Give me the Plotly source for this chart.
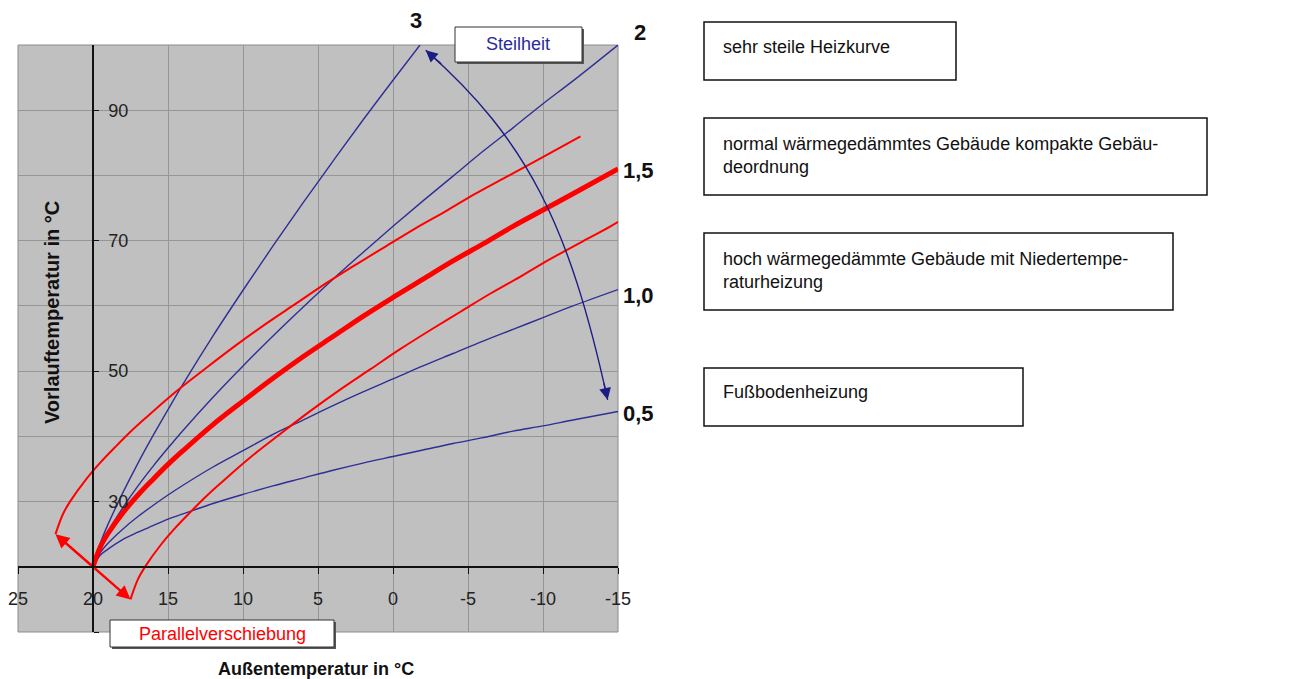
import plotly.graph_objects as go

# ---------------- data ----------------
x_common = [20, 19.5, 19, 18, 17, 16, 15, 14, 12, 10, 8, 6, 4, 2, 0, -2, -4, -6, -8, -10, -12, -15]

x_s3 = [20, 19.5, 19, 18, 17, 16, 15, 14, 12, 10, 8, 6, 4, 2, 0, -1.8]
y_s3 = [20, 23.7, 26.5, 31.4, 35.9, 40.1, 44.1, 48.0, 55.4, 62.4, 69.2, 75.8, 82.2, 88.5, 94.6, 100]

y_s2 = [20, 23.2, 25.4, 29.1, 32.4, 35.4, 38.2, 40.9, 46.0, 50.8, 55.4, 59.8, 64.1, 68.2,
        72.2, 76.1, 79.9, 83.7, 87.3, 91.0, 94.5, 100]
y_s15 = [20, 23.1, 25.1, 28.3, 31.0, 33.4, 35.7, 37.8, 41.8, 45.4, 48.9, 52.2, 55.3, 58.4,
         61.3, 64.1, 66.9, 69.5, 72.2, 74.7, 77.2, 81.0]
y_s10 = [20, 22.2, 23.6, 25.8, 27.7, 29.4, 31.0, 32.5, 35.3, 37.8, 40.3, 42.5, 44.7, 46.8,
         48.8, 50.8, 52.7, 54.6, 56.4, 58.2, 60.0, 62.5]
y_s05 = [20, 21.8, 22.7, 24.2, 25.3, 26.3, 27.3, 28.1, 29.7, 31.1, 32.4, 33.6, 34.8, 35.9,
         36.9, 37.9, 38.9, 39.8, 40.8, 41.6, 42.5, 43.8]

# parallel-shifted curves (Parallelverschiebung)
x_up = [22.5, 22, 21.5, 20.5, 19.5, 18.5, 17.5, 16.5, 14.5, 12.5, 10.5, 8.5, 6.5, 4.5, 2.5,
        0.5, -1.5, -3.5, -5.5, -7.5, -9.5, -12.5]
y_up = [25, 28.1, 30.1, 33.3, 36.0, 38.4, 40.7, 42.8, 46.8, 50.4, 53.9, 57.2, 60.3, 63.4,
        66.3, 69.1, 71.9, 74.5, 77.2, 79.7, 82.2, 86.0]
x_lo = [17.5, 17, 16.5, 15.5, 14.5, 13.5, 12.5, 11.5, 9.5, 7.5, 5.5, 3.5, 1.5, -0.5, -2.5,
        -4.5, -6.5, -8.5, -10.5, -12.5, -14.5, -15]
y_lo = [15, 18.1, 20.1, 23.3, 26.0, 28.4, 30.7, 32.8, 36.8, 40.4, 43.9, 47.2, 50.3, 53.4,
        56.3, 59.1, 61.9, 64.5, 67.2, 69.7, 72.2, 72.9]

x_ticks = [25, 20, 15, 10, 5, 0, -5, -10, -15]
y_ticks = [10, 30, 50, 70, 90]
y_ticktext = ["", "30", "50", "70", "90"]

curve_labels = ["3", "2", "1,5", "1,0", "0,5"]
box_texts = [
    "sehr steile Heizkurve",
    "normal wärmegedämmtes Gebäude kompakte Gebäu-<br>deordnung",
    "hoch wärmegedämmte Gebäude mit Niedertempe-<br>raturheizung",
    "Fußbodenheizung",
]
x_title = "Außentemperatur in °C"
y_title = "Vorlauftemperatur in °C"

# ---------------- style ----------------
OFF = 8                      # page body margin of the html page
W, H = 1290 - OFF, 679 - OFF
PL, PR, PT, PB = 18, 618, 45, 632  # plot area in reference pixels
FONT = "Liberation Sans, Arial, sans-serif"
BLUE = "#2E2E96"
NAVY = "#1C1C86"
RED = "#FF0000"


def px(xp):
    return (xp - PL) / (PR - PL)


def py(yp):
    return (PB - yp) / (PB - PT)


fig = go.Figure()

for xs, ys in [(x_s3, y_s3), (x_common, y_s2), (x_common, y_s10), (x_common, y_s05)]:
    fig.add_trace(go.Scatter(x=xs, y=ys, mode="lines", line=dict(color=BLUE, width=1.4, shape="spline"),
                             hoverinfo="skip", showlegend=False))

for xs, ys in [(x_up, y_up), (x_lo, y_lo)]:
    fig.add_trace(go.Scatter(x=xs, y=ys, mode="lines", line=dict(color=RED, width=2, shape="spline"),
                             hoverinfo="skip", showlegend=False))

fig.add_trace(go.Scatter(x=x_common, y=y_s15, mode="lines", line=dict(color=RED, width=5, shape="spline"),
                         hoverinfo="skip", showlegend=False))

shapes = []
annotations = []

# plot border
shapes.append(dict(type="rect", xref="paper", yref="paper", x0=0, x1=1, y0=0, y1=1,
                   line=dict(color="#8C8C8C", width=1), layer="below"))

# curved "Steilheit" arrow (decoration), as a cubic path in data coordinates
shapes.append(dict(type="path", xref="x", yref="y",
                   path="M -2.18,99.2 C -8.98,85.4 -11.75,72.4 -14.31,45.6",
                   line=dict(color=NAVY, width=1.4), layer="above"))

# arrowheads of the Steilheit arrow
annotations.append(dict(x=-2.18, y=99.2, xref="x", yref="y", ax=17, ay=15, axref="pixel", ayref="pixel",
                        showarrow=True, arrowhead=2, arrowsize=1.7, arrowwidth=1.4, arrowcolor=NAVY, text=""))
annotations.append(dict(x=-14.31, y=45.6, xref="x", yref="y", ax=-4, ay=-18, axref="pixel", ayref="pixel",
                        showarrow=True, arrowhead=2, arrowsize=1.7, arrowwidth=1.4, arrowcolor=NAVY, text=""))

# red parallel-shift arrows
annotations.append(dict(x=22.5, y=25, xref="x", yref="y", ax=20, ay=20, axref="x", ayref="y",
                        showarrow=True, arrowhead=2, arrowsize=1.15, arrowwidth=2.4, arrowcolor=RED, text=""))
annotations.append(dict(x=17.5, y=15, xref="x", yref="y", ax=20, ay=20, axref="x", ayref="y",
                        showarrow=True, arrowhead=2, arrowsize=1.15, arrowwidth=2.4, arrowcolor=RED, text=""))


def label_box(x0, y0, x1, y1, shadow=True):
    if shadow:
        shapes.append(dict(type="rect", xref="paper", yref="paper", x0=px(x0 + 2), x1=px(x1 + 2),
                           y0=py(y1 + 2), y1=py(y0 + 2), fillcolor="#555555",
                           line=dict(width=0), layer="above"))
    shapes.append(dict(type="rect", xref="paper", yref="paper", x0=px(x0), x1=px(x1),
                       y0=py(y1), y1=py(y0), fillcolor="white",
                       line=dict(color="#333333", width=1), layer="above"))


# Steilheit box
label_box(455, 27, 582, 62)
annotations.append(dict(x=px(518), y=py(44), xref="paper", yref="paper", text="Steilheit",
                        showarrow=False, font=dict(family=FONT, size=18, color="#2A2AA0"),
                        xanchor="center", yanchor="middle"))
# Parallelverschiebung box
label_box(110, 620, 334, 647)
annotations.append(dict(x=px(222), y=py(634), xref="paper", yref="paper", text="Parallelverschiebung",
                        showarrow=False, font=dict(family=FONT, size=18, color=RED),
                        xanchor="center", yanchor="middle"))

# curve labels
lab_pos = [(416, 21, "center"), (640, 33, "center"), (621, 171, "left"), (621, 295, "left"), (621, 413, "left")]
for txt, (xp, yp, anc) in zip(curve_labels, lab_pos):
    annotations.append(dict(x=px(xp), y=py(yp), xref="paper", yref="paper", text=f"<b>{txt}</b>",
                            showarrow=False, font=dict(family=FONT, size=22, color="#111111"),
                            xanchor=anc, yanchor="middle"))

# right-side explanation boxes
boxes = [(704, 22, 956, 80, 47), (704, 118, 1207, 195, 155), (704, 233, 1173, 310, 270),
         (704, 368, 1023, 426, 392)]
for txt, (x0, y0, x1, y1, ty) in zip(box_texts, boxes):
    shapes.append(dict(type="rect", xref="paper", yref="paper", x0=px(x0), x1=px(x1), y0=py(y1), y1=py(y0),
                       fillcolor="white", line=dict(color="#111111", width=1.5), layer="above"))
    annotations.append(dict(x=px(721), y=py(ty), xref="paper", yref="paper", text=txt, showarrow=False,
                            align="left", xanchor="left", yanchor="middle",
                            font=dict(family=FONT, size=18, color="#111111")))

# axis titles
annotations.append(dict(x=px(316), y=py(669), xref="paper", yref="paper", text=f"<b>{x_title}</b>",
                        showarrow=False, font=dict(family=FONT, size=18, color="#111111"),
                        xanchor="center", yanchor="middle"))
annotations.append(dict(x=px(52), y=py(313), xref="paper", yref="paper", text=f"<b>{y_title}</b>",
                        showarrow=False, textangle=-90, font=dict(family=FONT, size=20, color="#111111"),
                        xanchor="center", yanchor="middle"))

fig.update_layout(
    width=W, height=H,
    margin=dict(l=PL - OFF, r=1290 - PR, t=PT - OFF, b=679 - PB, pad=0, autoexpand=False),
    paper_bgcolor="white",
    plot_bgcolor="#C0C0C0",
    showlegend=False,
    font=dict(family=FONT, size=18, color="#222222"),
    xaxis=dict(range=[25, -15], tickvals=x_ticks, ticktext=[str(v) for v in x_ticks],
               anchor="free", position=(20 - 10) / 90, side="bottom", automargin=False,
               showline=True, linecolor="#111111", linewidth=1.5,
               ticks="outside", ticklen=6, tickwidth=1.3, tickcolor="#111111",
               ticklabelstandoff=10, ticklabeloverflow="allow",
               showgrid=True, gridcolor="#969696", gridwidth=1, zeroline=False,
               tickfont=dict(family=FONT, size=18, color="#222222"), fixedrange=True),
    yaxis=dict(range=[10, 100], tickvals=y_ticks, ticktext=y_ticktext,
               anchor="free", position=(25 - 20) / 40, side="right", automargin=False,
               showline=True, linecolor="#111111", linewidth=1.5,
               ticks="outside", ticklen=5, tickwidth=1.3, tickcolor="#111111",
               ticklabelstandoff=6, ticklabeloverflow="allow",
               showgrid=True, gridcolor="#969696", gridwidth=1, zeroline=False,
               minor=dict(tickmode="linear", tick0=0, dtick=10, showgrid=True, gridcolor="#969696",
                          gridwidth=1, ticks=""),
               tickfont=dict(family=FONT, size=18, color="#222222"), fixedrange=True),
    shapes=shapes,
    annotations=annotations,
)

fig.write_html("out.html")
